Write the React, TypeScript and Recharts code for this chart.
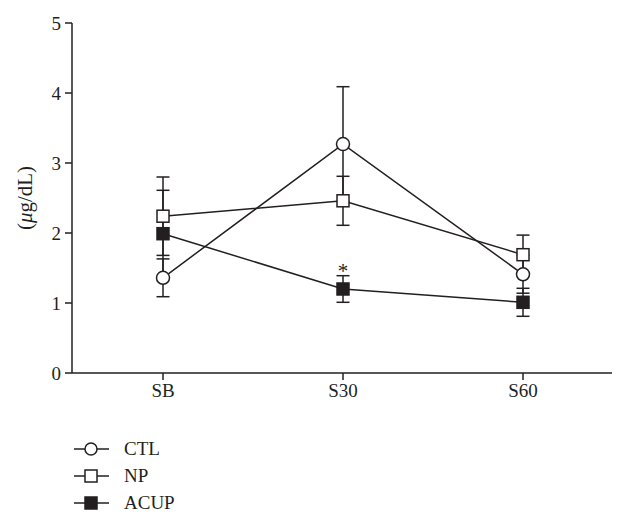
import React from 'react';
import { LineChart, Line, XAxis, YAxis, ErrorBar, Legend, Label, LabelList } from 'recharts';

// sampling times
const categories = ['SB', 'S30', 'S60'];

// means and SD per group (µg/dL)
const ctl = [1.36, 3.27, 1.41];
const ctlSd = [0.27, 0.82, 0.27];
const np = [2.24, 2.46, 1.69];
const npSd = [0.56, 0.35, 0.28];
const acup = [1.99, 1.2, 1.01];
const acupSd = [0.62, 0.19, 0.2];
const acupMark = ['', '*', ''];

const yTicks = [0, 1, 2, 3, 4, 5];

const data = categories.map((c, i) => ({
  cat: c,
  ctl: ctl[i],
  ctlSd: ctlSd[i],
  np: np[i],
  npSd: npSd[i],
  acup: acup[i],
  acupSd: acupSd[i],
  mark: acupMark[i],
}));

const FONT = '"Liberation Serif", "DejaVu Serif", serif';
const INK = '#231f20';

const CircleDot = (props: any) => {
  const { cx, cy } = props;
  return <circle cx={cx} cy={cy} r={6.5} fill="#fff" stroke={INK} strokeWidth={1.5} />;
};

const OpenSquare = (props: any) => {
  const { cx, cy } = props;
  return <rect x={cx - 6} y={cy - 6} width={12} height={12} fill="#fff" stroke={INK} strokeWidth={1.5} />;
};

const FilledSquare = (props: any) => {
  const { cx, cy } = props;
  return <rect x={cx - 6} y={cy - 6} width={12} height={12} fill={INK} stroke={INK} strokeWidth={1.5} />;
};

const YLabel = (props: any) => {
  const vb = props.viewBox || { x: 0, y: 15, width: 64, height: 350 };
  const cx = 17;
  const cy = vb.y + vb.height / 2;
  return (
    <text x={cx} y={cy} transform={`rotate(-90, ${cx}, ${cy})`} textAnchor="middle" dominantBaseline="central"
      fontFamily={FONT} fontSize={21} fill={INK}>
      (<tspan fontStyle="italic">μ</tspan>g/dL)
    </text>
  );
};

const Star = (props: any) => {
  const { x, y, width, value } = props;
  if (!value) return null;
  const cx = x + (width || 0) / 2;
  return (
    <text x={cx} y={y - 11} textAnchor="middle" fontFamily={FONT} fontSize={21} fill={INK}>{value}</text>
  );
};

const legendItems = [
  { name: 'CTL', kind: 'circle' },
  { name: 'NP', kind: 'open' },
  { name: 'ACUP', kind: 'filled' },
];

const renderLegend = () => (
  <div style={{ fontFamily: FONT, fontSize: 19, color: INK }}>
    {legendItems.map(it => (
      <div key={it.name} style={{ display: 'flex', alignItems: 'center', height: 27 }}>
        <svg width={38} height={16} style={{ marginRight: 13 }}>
          <line x1={1} y1={8} x2={36} y2={8} stroke={INK} strokeWidth={1.5} />
          {it.kind === 'circle' && <circle cx={18} cy={8} r={6} fill="#fff" stroke={INK} strokeWidth={1.5} />}
          {it.kind === 'open' && <rect x={12} y={2} width={12} height={12} fill="#fff" stroke={INK} strokeWidth={1.5} />}
          {it.kind === 'filled' && <rect x={12} y={2} width={12} height={12} fill={INK} stroke={INK} strokeWidth={1.5} />}
        </svg>
        <span>{it.name}</span>
      </div>
    ))}
  </div>
);

export default function App() {
  return (
    <div style={{ width: 621, height: 514, background: '#fff' }}>
      <LineChart width={621} height={514} data={data} margin={{ top: 15, right: 17, left: 0, bottom: 119 }}>
        <XAxis
          dataKey="cat"
          height={30}
          padding={{ left: 91, right: 89 }}
          axisLine={{ stroke: INK, strokeWidth: 1.5 }}
          tickLine={{ stroke: INK, strokeWidth: 1.5 }}
          tickSize={7}
          tick={{ fontFamily: FONT, fontSize: 19, fill: INK }}
          tickMargin={4}
        />
        <YAxis
          width={64}
          domain={[0, 5]}
          ticks={yTicks}
          interval={0}
          axisLine={{ stroke: INK, strokeWidth: 1.5 }}
          tickLine={{ stroke: INK, strokeWidth: 1.5 }}
          tickSize={7}
          tick={{ fontFamily: FONT, fontSize: 19, fill: INK }}
          tickMargin={4}
        >
          <Label content={YLabel} />
        </YAxis>
        <Legend
          layout="vertical"
          align="center"
          verticalAlign="middle"
          content={renderLegend}
          wrapperStyle={{ left: 65, top: 427, width: 150 }}
        />
        <Line dataKey="ctl" name="CTL" stroke={INK} strokeWidth={1.5} dot={<CircleDot />} activeDot={false} isAnimationActive={false}>
          <ErrorBar dataKey="ctlSd" direction="y" width={6.5} stroke={INK} strokeWidth={1.5} />
        </Line>
        <Line dataKey="np" name="NP" stroke={INK} strokeWidth={1.5} dot={<OpenSquare />} activeDot={false} isAnimationActive={false}>
          <ErrorBar dataKey="npSd" direction="y" width={6.5} stroke={INK} strokeWidth={1.5} />
        </Line>
        <Line dataKey="acup" name="ACUP" stroke={INK} strokeWidth={1.5} dot={<FilledSquare />} activeDot={false} isAnimationActive={false}>
          <ErrorBar dataKey="acupSd" direction="y" width={6.5} stroke={INK} strokeWidth={1.5} />
          <LabelList dataKey="mark" content={<Star />} />
        </Line>
      </LineChart>
    </div>
  );
}
